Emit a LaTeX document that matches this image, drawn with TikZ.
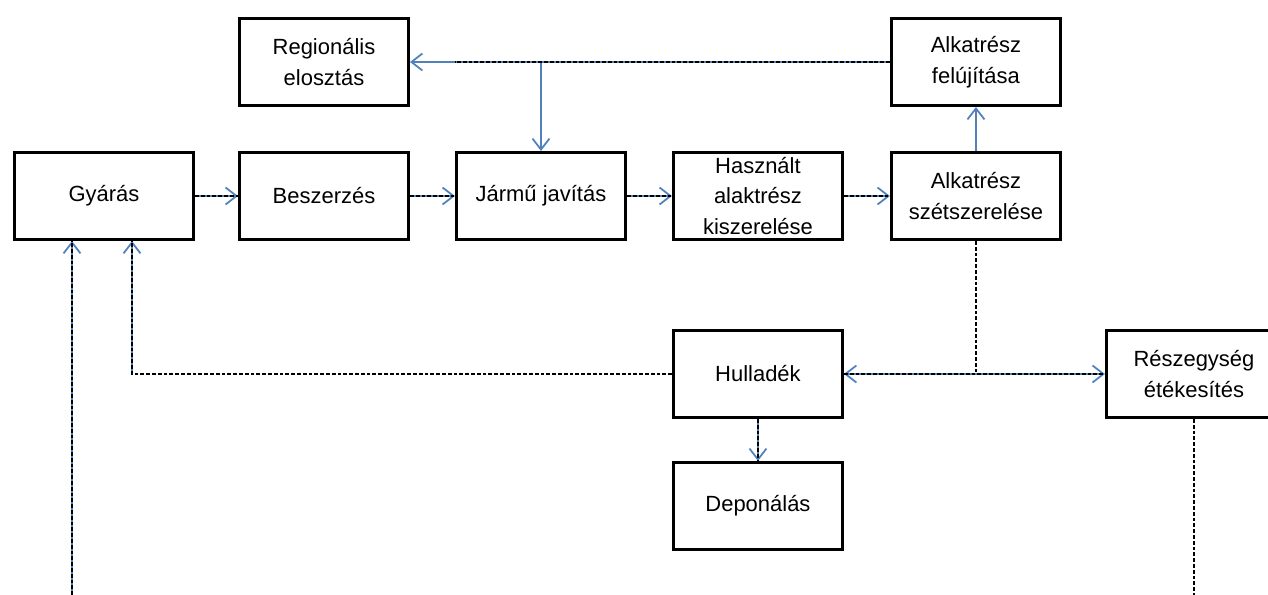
\documentclass[tikz,border=0pt]{standalone}
\usepackage{fontspec}
\setmainfont{Liberation Sans}
\usepackage{tikz}
\usetikzlibrary{arrows.meta,positioning,calc}
\definecolor{Blue}{HTML}{4F81BD}
\tikzset{
  procbox/.style={draw=black,line width=1.7pt,fill=white,minimum width=3.38cm,minimum height=1.74cm,align=center,inner sep=2pt,font=\fontsize{12.5}{17.5}\selectfont},
  bluearr/.style={-{Straight Barb[length=2.2mm,width=3.4mm]},line width=1pt,draw=Blue},
  bluedbl/.style={{Straight Barb[length=2.2mm,width=3.4mm]}-{Straight Barb[length=2.2mm,width=3.4mm]},line width=1pt,draw=Blue},
  dashln/.style={dash pattern=on 2.2pt off 1.1pt,line width=0.7pt,draw=black}
}
\begin{document}
\begin{tikzpicture}[node distance=.9cm]
  \useasboundingbox (0,0) rectangle (25.36,-11.9);
  \node[procbox,minimum width=3.58cm] (gyaras) at (2.08,-3.92) {Gyárás};
  \node[procbox,right=.86cm of gyaras] (beszerzes) {Beszerzés};
  \node[procbox,right=of beszerzes] (jarmu) {Jármű javítás};
  \node[procbox,right=of jarmu] (hasznalt) {Használt\\alaktrész\\kiszerelése};
  \node[procbox,right=.92cm of hasznalt] (szet) {Alkatrész\\szétszerelése};
  \node[procbox,above=.88cm of beszerzes] (regio) {Regionális\\elosztás};
  \node[procbox,above=.88cm of szet] (felujit) {Alkatrész\\felújítása};
  \node[procbox,below=1.76cm of hasznalt] (hullad) {Hulladék};
  \node[procbox,below=.84cm of hullad] (depon) {Deponálás};
  \node[procbox,minimum width=3.5cm,anchor=west] (reszegy) at ([xshift=.86cm]szet.east |- hullad) {Részegység\\étékesítés};
  \coordinate (bot) at (0,-11.9);
  \coordinate (gyin) at ([xshift=-6.4mm]gyaras.south);
  \coordinate (gyret) at ([xshift=5.6mm]gyaras.south);
  \coordinate (szetdn) at (szet.south |- hullad.east);
  % blue arrows
  \draw[bluearr] (gyaras)--(beszerzes);\draw[bluearr] (beszerzes)--(jarmu);\draw[bluearr] (jarmu)--(hasznalt);\draw[bluearr] (hasznalt)--(szet);
  \draw[bluearr] (szet)--(felujit);
  \draw[bluearr] (felujit.west)--(regio.east);
  \draw[bluearr] (jarmu.north |- regio.east)--(jarmu.north);
  \draw[bluedbl] (hullad.east)--(reszegy.west);
  \draw[bluearr] (hullad)--(depon);
  \draw[bluearr] (gyret |- hullad.west)--(gyret);
  \draw[bluearr] (gyin |- bot)--(gyin);
  % dashed lines
  \draw[dashln] (gyaras)--(beszerzes);\draw[dashln] (beszerzes)--(jarmu);\draw[dashln] (jarmu)--(hasznalt);\draw[dashln] (hasznalt)--(szet);
  \draw[dashln] (felujit.west)--(jarmu.west |- felujit.west);
  \draw[dashln] (szet.south)--(szetdn);
  \draw[dashln] (hullad.east)--(reszegy.west);
  \draw[dashln] (hullad.west)-|(gyret);
  \draw[dashln] (hullad)--(depon);
  \draw[dashln] (gyin |- bot)--(gyin);
  \draw[dashln] (reszegy.south)--(reszegy.south |- bot);
\end{tikzpicture}
\end{document}
